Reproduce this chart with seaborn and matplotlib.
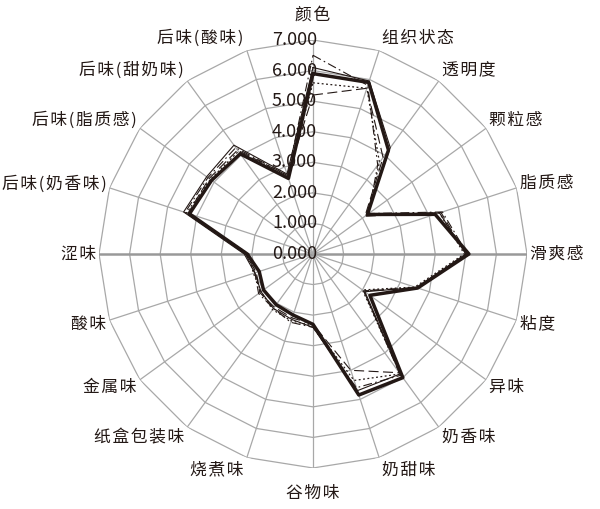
import numpy as np
import pandas as pd
import matplotlib
matplotlib.use("Agg")
import matplotlib.pyplot as plt
import seaborn as sns

categories = ["颜色", "组织状态", "透明度", "颗粒感", "脂质感", "滑爽感", "粘度", "异味",
              "奶香味", "奶甜味", "谷物味", "烧煮味", "纸盒包装味", "金属味", "酸味", "涩味",
              "后味(奶香味)", "后味(脂质感)", "后味(甜奶味)", "后味(酸味)"]

s1_thick = [5.9, 5.9, 4.2, 2.2, 4.2, 5.1, 3.6, 2.3, 5.0, 4.85, 2.3, 2.1, 2.05, 2.0, 1.85, 2.15, 4.25, 4.1, 4.05, 2.6]
s2_thin = [6.1, 5.95, 4.3, 2.15, 4.35, 5.0, 3.55, 2.1, 4.85, 4.7, 2.4, 2.25, 2.2, 2.1, 2.0, 2.25, 4.45, 4.3, 4.4, 2.75]
s3_dash = [5.2, 5.7, 3.9, 2.1, 4.4, 5.0, 3.6, 2.05, 4.8, 4.0, 2.3, 2.2, 2.15, 2.15, 1.95, 2.2, 4.3, 4.2, 4.2, 2.7]
s4_dot = [5.6, 5.7, 3.7, 2.2, 4.35, 4.95, 3.5, 2.0, 4.85, 4.35, 2.35, 2.3, 2.25, 2.1, 2.05, 2.1, 4.35, 4.15, 4.15, 2.65]
s5_dashdot = [6.5, 5.8, 3.6, 2.25, 4.45, 5.05, 3.55, 2.05, 4.9, 4.6, 2.4, 2.35, 2.2, 2.2, 2.0, 2.2, 4.4, 4.25, 4.3, 2.7]

tick_values = [0, 1, 2, 3, 4, 5, 6, 7]
tick_labels = ["0.000", "1.000", "2.000", "3.000", "4.000", "5.000", "6.000", "7.000"]

sns.set_theme(style="white")
plt.rcParams["font.family"] = ["Noto Sans CJK SC", "DejaVu Sans"]

fig = plt.figure(figsize=(6.0, 5.09), dpi=100)
R_PX = 214
ax = fig.add_axes([(313 - R_PX) / 600, (509 - 254 - R_PX) / 509, 2 * R_PX / 600, 2 * R_PX / 509],
                  projection="polar")
ax.set_theta_zero_location("N")
ax.set_theta_direction(-1)
ax.set_ylim(0, 7)
ax.grid(False)
ax.set_xticks([])
ax.set_yticks([])
ax.spines["polar"].set_visible(False)
ax.patch.set_alpha(0)

n = len(categories)
theta = np.arange(n) * 2 * np.pi / n
theta_closed = np.append(theta, theta[0])

grid_col = "#a8a8a8"
for k in tick_values[1:]:
    ax.plot(theta_closed, [k] * (n + 1), color=grid_col, lw=0.9, zorder=1)
for i, t in enumerate(theta):
    heavy = i in (5, 15)
    ax.plot([t, t], [0, 7], color="#999999" if heavy else grid_col,
            lw=1.8 if heavy else 0.9, zorder=1)

series = [
    ("s1", s1_thick, dict(color="#231815", lw=2.5, ls="-"), 6),
    ("s2", s2_thin, dict(color="#231815", lw=0.8, ls="-"), 5),
    ("s3", s3_dash, dict(color="#231815", lw=0.8, dashes=(9, 4)), 4),
    ("s4", s4_dot, dict(color="#231815", lw=0.9, dashes=(1.5, 2)), 4),
    ("s5", s5_dashdot, dict(color="#231815", lw=0.8, dashes=(8, 3, 1.5, 3)), 4),
]
for name, vals, style, z in series:
    df = pd.DataFrame({"theta": theta_closed, "r": list(vals) + [vals[0]]})
    ls = style.pop("ls", None)
    dashes = style.pop("dashes", None)
    sns.lineplot(data=df, x="theta", y="r", sort=False, ax=ax, zorder=z,
                 estimator=None, legend=False, **style,
                 **({"linestyle": ls} if ls else {}))
    if dashes is not None:
        ax.lines[-1].set_dashes(dashes)
ax.set_xlabel("")
ax.set_ylabel("")
ax.set_ylim(0, 7)

txt_col = "#231815"
for v, lab in zip(tick_values, tick_labels):
    ax.annotate(lab, xy=(0, v), xytext=(4, 0), textcoords="offset pixels",
                ha="right", va="center", fontsize=13, color=txt_col, zorder=2,
                annotation_clip=False)

for t, lab in zip(theta, categories):
    s, c = np.sin(t), np.cos(t)
    if abs(s) < 0.1:
        ha = "center"
        dx = 0
        dy = 25 if c > 0 else -25
    else:
        ha = "left" if s > 0 else "right"
        dx = 3 if s > 0 else -3
        dy = 13 * c
    spaced = "\u200a".join(lab)
    ax.annotate(spaced, xy=(t, 7), xytext=(dx, dy), textcoords="offset pixels",
                ha=ha, va="center", fontsize=12.1, color=txt_col,
                annotation_clip=False)

fig.savefig("out.png", dpi=100, facecolor="white")
